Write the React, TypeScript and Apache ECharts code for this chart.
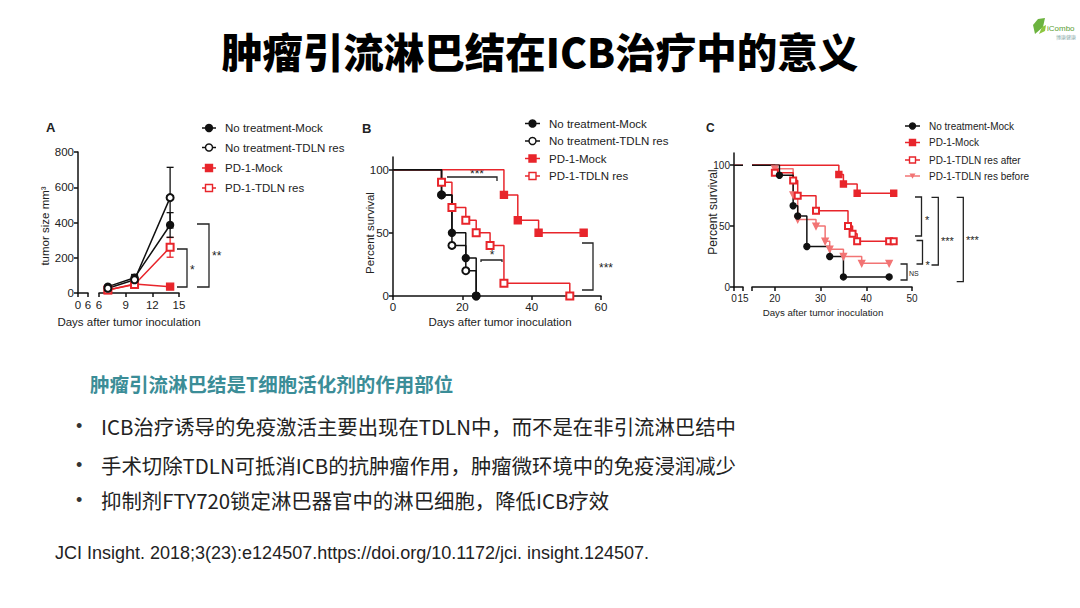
import React, { useEffect, useRef } from "react";
import * as echarts from "echarts";

// ---------- Panel A: tumor size ----------
const daysA = [7, 10, 14];
const aNoMock = [36, 87, 386];
const aNoMockErr = [8, 18, 70];
const aNoRes = [27, 75, 541];
const aNoResErr = [5, 14, 172];
const aPdMock = [17, 51, 36];
const aPdMockErr = [4, 8, 8];
const aPdRes = [17, 48, 259];
const aPdResErr = [4, 8, 56];
const aYTicks = [0, 200, 400, 600, 800];
const aXTicks1 = [0, 6];
const aXTicks2 = [6, 9, 12, 15];

// ---------- Panel B: survival ----------
const bNoMockT = [0, 14, 17, 21, 24];
const bNoMockS = [100, 80, 50, 30, 0];
const bNoResT = [0, 14, 17, 21, 24];
const bNoResS = [100, 80, 40, 20, 0];
const bPdMockT = [0, 32, 36, 42, 55];
const bPdMockS = [100, 80, 60, 50, 50];
const bPdResT = [0, 14, 17, 21, 24, 28, 32, 51];
const bPdResS = [100, 90, 70, 60, 50, 40, 10, 0];
const bXTicks = [0, 20, 40, 60];
const survTicks = [0, 50, 100];

// ---------- Panel C: survival ----------
const cNoMockT = [0, 21, 24, 25, 27, 32, 35, 45];
const cNoMockS = [100, 91.7, 66.7, 58.3, 33.3, 25, 8.3, 8.3];
const cPdMockT = [0, 34, 35, 38, 46];
const cPdMockS = [100, 92.3, 84.6, 76.9, 76.9];
const cAfterT = [0, 20, 24, 25, 29, 36, 37, 38, 45, 46];
const cAfterS = [100, 93.8, 87.5, 75, 62.5, 50, 43.8, 37.5, 37.5, 37.5];
const cBeforeT = [0, 20, 24, 25, 29, 31, 32, 35, 39, 45];
const cBeforeS = [100, 97, 75.5, 55.5, 50, 37.5, 31, 25, 19.4, 19.4];
const cXTicks1 = [0, 15];
const cXTicks2 = [15, 20, 30, 40, 50];
const cXLabels2 = [20, 30, 40, 50];

const legendA = ["No treatment-Mock", "No treatment-TDLN res", "PD-1-Mock", "PD-1-TDLN res"];
const legendC = ["No treatment-Mock", "PD-1-Mock", "PD-1-TDLN res after", "PD-1-TDLN res before"];

const BLACK = "#111111";
const RED = "#e8252b";
const PINK = "#f27474";
const LAT = "Liberation Sans, Arial, sans-serif";
const CJK = '"Noto Sans CJK SC", sans-serif';

type Sym = "circle" | "emptyCircle" | "rect" | "emptyRect" | "tri";

function kmSeries(name: string, T: number[], S: number[], from: number, sym: Sym, color: string, size: number, xi: number, yi: number) {
  const pts: any[] = [];
  if (from > 0) pts.push({ value: [from, S[0]], symbol: "none" });
  T.forEach((t, i) => {
    if (t >= from) pts.push({ value: [t, S[i]], symbol: i === 0 ? "none" : sym === "tri" ? "triangle" : sym });
  });
  return {
    type: "line",
    name,
    xAxisIndex: xi,
    yAxisIndex: yi,
    step: "end",
    data: pts,
    symbolSize: size,
    symbolRotate: sym === "tri" ? 180 : 0,
    lineStyle: { color, width: 1.5 },
    itemStyle: { color, borderColor: color, borderWidth: 1.4 },
    emphasis: { disabled: true },
  };
}

function kmLead(name: string, S: number[], color: string, xi: number, yi: number) {
  return {
    type: "line",
    name,
    xAxisIndex: xi,
    yAxisIndex: yi,
    data: [[0, S[0]], [15, S[0]]],
    symbol: "none",
    lineStyle: { color, width: 1.5 },
  };
}

function lineA(name: string, vals: number[], sym: Sym, color: string) {
  return {
    type: "line",
    name,
    xAxisIndex: 1,
    yAxisIndex: 1,
    data: daysA.map((d, i) => [d, vals[i]]),
    symbol: sym,
    symbolSize: 7,
    lineStyle: { color, width: 1.5 },
    itemStyle: { color, borderColor: color, borderWidth: 1.4 },
    z: 3,
  };
}

function errA(vals: number[], errs: number[], color: string) {
  return {
    type: "custom",
    xAxisIndex: 1,
    yAxisIndex: 1,
    data: daysA.map((d, i) => [d, vals[i] - errs[i], vals[i] + errs[i]]),
    z: 2,
    renderItem: (params: any, api: any) => {
      const x = api.value(0);
      const lo = api.coord([x, api.value(1)]);
      const hi = api.coord([x, api.value(2)]);
      const w = 3.5;
      const st = { stroke: color, lineWidth: 1.3 };
      return {
        type: "group",
        children: [
          { type: "line", shape: { x1: lo[0], y1: lo[1], x2: hi[0], y2: hi[1] }, style: st },
          { type: "line", shape: { x1: hi[0] - w, y1: hi[1], x2: hi[0] + w, y2: hi[1] }, style: st },
          { type: "line", shape: { x1: lo[0] - w, y1: lo[1], x2: lo[0] + w, y2: lo[1] }, style: st },
        ],
      };
    },
  };
}

function axisStyle(fs: number, margin: number) {
  return {
    axisLine: { show: true, lineStyle: { color: BLACK, width: 1.5 } },
    axisTick: { show: true, length: 4, lineStyle: { color: BLACK, width: 1.5 } },
    axisLabel: { color: "#222", fontSize: fs, fontFamily: LAT, margin },
    splitLine: { show: false },
  };
}

function xAxis(grid: number, min: number, max: number, ticks: number[], labels: number[], fs: number, margin: number) {
  const s = axisStyle(fs, margin);
  return {
    type: "value",
    gridIndex: grid,
    min,
    max,
    ...s,
    axisTick: { ...s.axisTick, customValues: ticks },
    axisLabel: { ...s.axisLabel, customValues: labels },
  };
}

function yAxis(grid: number, min: number, max: number, ticks: number[], fs: number, show: boolean) {
  const s = axisStyle(fs, 4);
  return {
    type: "value",
    gridIndex: grid,
    min,
    max,
    show,
    ...s,
    axisTick: { ...s.axisTick, customValues: ticks },
    axisLabel: { ...s.axisLabel, customValues: ticks },
  };
}

function txt(text: string, x: number, y: number, fs: number, opts: any = {}) {
  return {
    type: "text",
    x,
    y,
    rotation: opts.rotation || 0,
    silent: true,
    style: {
      text,
      fill: opts.fill || "#222",
      fontSize: fs,
      fontFamily: opts.family || LAT,
      fontWeight: opts.weight || "normal",
      align: opts.align || "left",
      verticalAlign: "middle",
    },
  };
}

function bracket(points: number[][]) {
  return { type: "polyline", silent: true, shape: { points }, style: { stroke: "#222", lineWidth: 1.3, fill: null } };
}

function legendItem(x: number, y: number, len: number, sym: Sym, color: string, label: string, fs: number, r: number) {
  const cx = x + len / 2;
  const items: any[] = [
    { type: "line", silent: true, shape: { x1: x, y1: y, x2: x + len, y2: y }, style: { stroke: color, lineWidth: 1.5 } },
  ];
  if (sym === "circle" || sym === "emptyCircle") {
    items.push({ type: "circle", silent: true, shape: { cx, cy: y, r }, style: { fill: sym === "circle" ? color : "#fff", stroke: color, lineWidth: 1.4 } });
  } else if (sym === "rect" || sym === "emptyRect") {
    items.push({ type: "rect", silent: true, shape: { x: cx - r, y: y - r, width: 2 * r, height: 2 * r }, style: { fill: sym === "rect" ? color : "#fff", stroke: color, lineWidth: 1.4 } });
  } else {
    items.push({ type: "polygon", silent: true, shape: { points: [[cx - r, y - r * 0.8], [cx + r, y - r * 0.8], [cx, y + r * 0.9]] }, style: { fill: color } });
  }
  items.push(txt(label, x + len + 9, y, fs));
  return items;
}

export default function App() {
  const ref = useRef<HTMLDivElement>(null);
  useEffect(() => {
    document.body.style.margin = "0";
    const chart = echarts.init(ref.current!, undefined, { renderer: "svg" });

    const graphic: any[] = [];
    // Title
    graphic.push(txt("肿瘤引流淋巴结在ICB治疗中的意义", 540, 50, 40.5, { family: CJK, weight: 900, align: "center", fill: "#000" }));
    // Logo
    graphic.push({ type: "polygon", silent: true, shape: { points: [[1035, 34], [1033, 25], [1038, 19], [1045, 18], [1043, 27]] }, style: { fill: "#6cb33f" } });
    graphic.push({ type: "polygon", silent: true, shape: { points: [[1039, 34], [1042, 27], [1046, 25], [1045, 31]] }, style: { fill: "#8cc63f" } });
    graphic.push(txt("iCombo", 1047, 28, 8, { fill: "#5a9e32" }));
    graphic.push(txt("博康健康", 1056, 36, 5, { fill: "#8aa", family: CJK }));

    // Panel labels
    graphic.push(txt("A", 46, 127, 13, { weight: "bold" }));
    graphic.push(txt("B", 362, 128, 13, { weight: "bold" }));
    graphic.push(txt("C", 706, 128, 12, { weight: "bold" }));

    // Axis titles
    graphic.push(txt("tumor size mm³", 45, 226, 11.5, { align: "center", rotation: Math.PI / 2 }));
    graphic.push(txt("Days after tumor inoculation", 129, 322, 11.5, { align: "center" }));
    graphic.push(txt("Percent survival", 370, 233, 11.5, { align: "center", rotation: Math.PI / 2 }));
    graphic.push(txt("Days after tumor inoculation", 500, 322, 11.5, { align: "center" }));
    graphic.push(txt("Percent survival", 713, 212, 12, { align: "center", rotation: Math.PI / 2 }));
    graphic.push(txt("Days after tumor inoculation", 823, 312, 9.7, { align: "center" }));

    // Legends
    const symsAB: Sym[] = ["circle", "emptyCircle", "rect", "emptyRect"];
    const colsAB = [BLACK, BLACK, RED, RED];
    const rowsA = [128, 147.5, 168, 188];
    const rowsB = [123.5, 141, 158.5, 176];
    legendA.forEach((l, i) => graphic.push(...legendItem(202, rowsA[i], 14, symsAB[i], colsAB[i], l, 11.5, 3.5)));
    legendA.forEach((l, i) => graphic.push(...legendItem(525, rowsB[i], 15, symsAB[i], colsAB[i], l, 11.5, 3.5)));
    const symsC: Sym[] = ["circle", "rect", "emptyRect", "tri"];
    const colsC = [BLACK, RED, RED, PINK];
    const rowsC = [126, 142.5, 160, 176];
    legendC.forEach((l, i) => graphic.push(...legendItem(905, rowsC[i], 15, symsC[i], colsC[i], l, 10, 3)));

    // Significance brackets A
    graphic.push(bracket([[177, 249], [187, 249], [187, 287], [177, 287]]));
    graphic.push(txt("*", 190, 270, 12));
    graphic.push(bracket([[197, 224], [209, 224], [209, 287], [197, 287]]));
    graphic.push(txt("**", 212, 256, 12));
    // B
    graphic.push(bracket([[447, 177], [497, 177], [497, 181]]));
    graphic.push(txt("***", 477, 174, 12, { align: "center" }));
    graphic.push(bracket([[481, 262], [481, 260], [502, 260], [502, 262]]));
    graphic.push(txt("*", 492, 255, 12, { align: "center" }));
    graphic.push(bracket([[582, 243], [593, 243], [593, 290], [582, 290]]));
    graphic.push(txt("***", 599, 268, 12));
    // C
    graphic.push(bracket([[915, 197], [921.5, 197], [921.5, 236], [915, 236]]));
    graphic.push(txt("*", 925, 220, 11));
    graphic.push(bracket([[916.5, 240.5], [922.5, 240.5], [922.5, 264], [916.5, 264]]));
    graphic.push(txt("*", 925.5, 265, 11));
    graphic.push(bracket([[900.5, 264], [907, 264], [907, 280], [900.5, 280]]));
    graphic.push(txt("NS", 909, 273, 7));
    graphic.push(bracket([[931.5, 197.3], [938.3, 197.3], [938.3, 265], [931.5, 265]]));
    graphic.push(txt("***", 941, 241, 11));
    graphic.push(bracket([[956.7, 197.3], [963.3, 197.3], [963.3, 281.7], [956.7, 281.7]]));
    graphic.push(txt("***", 966, 240, 11));

    // Text block
    graphic.push(txt("肿瘤引流淋巴结是T细胞活化剂的作用部位", 90, 383, 19.5, { family: CJK, weight: "bold", fill: "#3b8d97" }));
    const bullets = [
      "ICB治疗诱导的免疫激活主要出现在TDLN中，而不是在非引流淋巴结中",
      "手术切除TDLN可抵消ICB的抗肿瘤作用，肿瘤微环境中的免疫浸润减少",
      "抑制剂FTY720锁定淋巴器官中的淋巴细胞，降低ICB疗效",
    ];
    const by = [426, 465, 500];
    bullets.forEach((b, i) => {
      graphic.push(txt("•", 76, by[i], 18, { fill: "#333" }));
      graphic.push(txt(b, 101, by[i], 20.4, { family: CJK, fill: "#222" }));
    });
    graphic.push(txt("JCI Insight. 2018;3(23):e124507.https://doi.org/10.1172/jci. insight.124507.", 55, 553, 18, { fill: "#222" }));

    const option: any = {
      animation: false,
      backgroundColor: "#fff",
      grid: [
        { left: 78, top: 152, width: 10, height: 141, outerBoundsMode: "none" },
        { left: 99, top: 152, width: 80, height: 141, outerBoundsMode: "none" },
        { left: 393, top: 157, width: 208, height: 139, outerBoundsMode: "none" },
        { left: 734, top: 153, width: 9, height: 134, outerBoundsMode: "none" },
        { left: 752, top: 153, width: 160, height: 134, outerBoundsMode: "none" },
      ],
      xAxis: [
        xAxis(0, 0, 6, aXTicks1, aXTicks1, 11.5, 6),
        xAxis(1, 6, 15, aXTicks2, aXTicks2, 11.5, 6),
        xAxis(2, 0, 60, bXTicks, bXTicks, 11.5, 5),
        xAxis(3, 0, 15, cXTicks1, cXTicks1, 10, 6),
        xAxis(4, 15, 50, cXTicks2, cXLabels2, 10, 6),
      ],
      yAxis: [
        yAxis(0, 0, 800, aYTicks, 11.5, true),
        yAxis(1, 0, 800, aYTicks, 11.5, false),
        yAxis(2, 0, 110, survTicks, 11.5, true),
        yAxis(3, 0, 110, survTicks, 10, true),
        yAxis(4, 0, 110, survTicks, 10, false),
      ],
      graphic,
      series: [
        // A
        errA(aPdMock, aPdMockErr, RED),
        errA(aPdRes, aPdResErr, RED),
        errA(aNoMock, aNoMockErr, BLACK),
        errA(aNoRes, aNoResErr, BLACK),
        lineA("PD-1-Mock", aPdMock, "rect", RED),
        lineA("PD-1-TDLN res", aPdRes, "emptyRect", RED),
        lineA("No treatment-Mock", aNoMock, "circle", BLACK),
        lineA("No treatment-TDLN res", aNoRes, "emptyCircle", BLACK),
        // B
        kmSeries("PD-1-Mock", bPdMockT, bPdMockS, 0, "rect", RED, 7, 2, 2),
        kmSeries("PD-1-TDLN res", bPdResT, bPdResS, 0, "emptyRect", RED, 7, 2, 2),
        kmSeries("No treatment-TDLN res", bNoResT, bNoResS, 0, "emptyCircle", BLACK, 7, 2, 2),
        kmSeries("No treatment-Mock", bNoMockT, bNoMockS, 0, "circle", BLACK, 7, 2, 2),
        // C
        kmLead("PD-1-Mock", cPdMockS, RED, 3, 3),
        kmLead("No treatment-Mock", cNoMockS, BLACK, 3, 3),
        kmSeries("PD-1-TDLN res before", cBeforeT, cBeforeS, 15, "tri", PINK, 6, 4, 4),
        kmSeries("PD-1-TDLN res after", cAfterT, cAfterS, 15, "emptyRect", RED, 6, 4, 4),
        kmSeries("PD-1-Mock", cPdMockT, cPdMockS, 15, "rect", RED, 6, 4, 4),
        kmSeries("No treatment-Mock", cNoMockT, cNoMockS, 15, "circle", BLACK, 6, 4, 4),
      ],
    };
    chart.setOption(option);
    return () => chart.dispose();
  }, []);
  return <div ref={ref} style={{ width: 1080, height: 608 }} />;
}
